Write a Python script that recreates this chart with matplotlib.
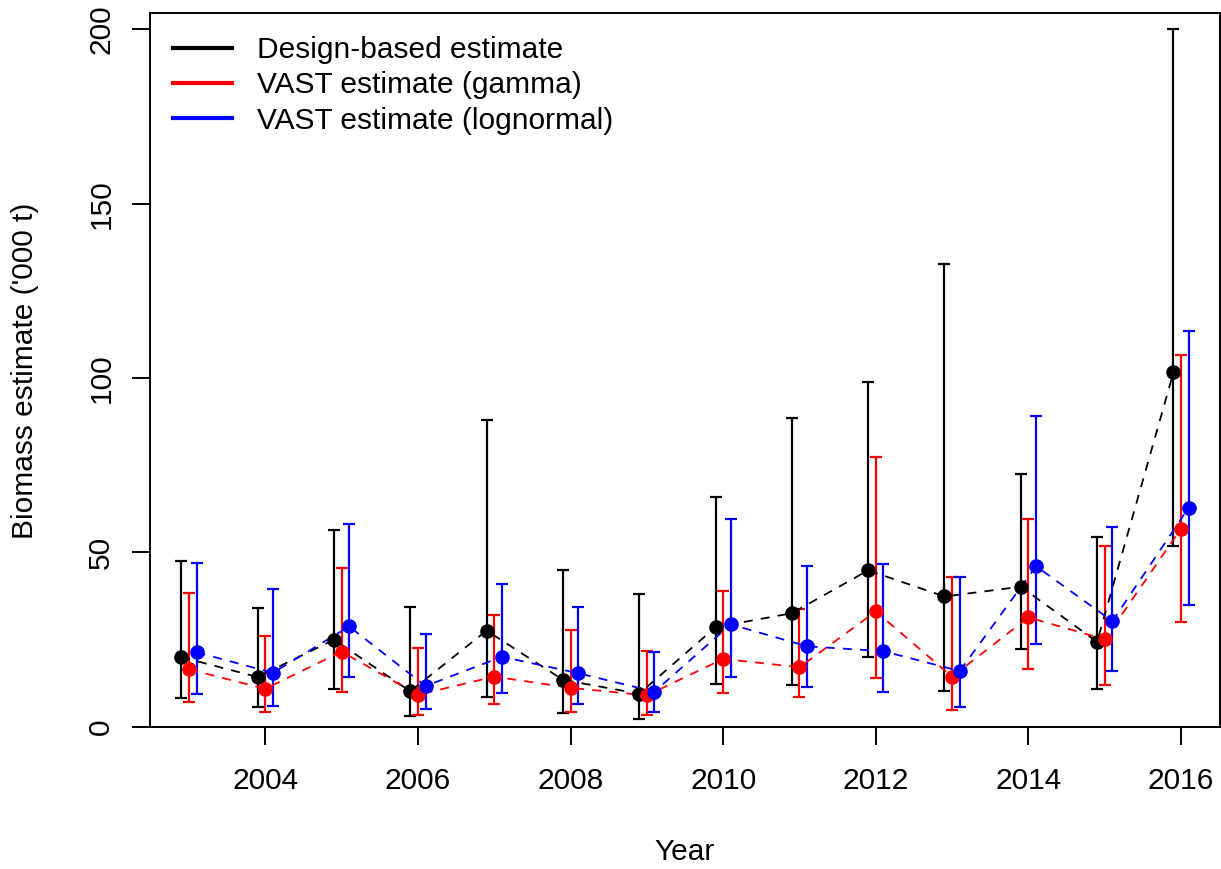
import matplotlib
matplotlib.use("Agg")
import matplotlib.pyplot as plt
from matplotlib.lines import Line2D
import numpy as np

plt.rcParams['font.family'] = ['Liberation Sans', 'DejaVu Sans']

years = [2003, 2004, 2005, 2006, 2007, 2008, 2009, 2010, 2011, 2012, 2013, 2014, 2015, 2016]

design = [19.9, 14.2, 24.9, 10.1, 27.5, 13.4, 9.4, 28.5, 32.5, 44.8, 37.3, 40.1, 24.3, 101.6]
design_lo = [8.2, 5.6, 10.9, 3.0, 8.4, 3.8, 2.1, 12.2, 11.8, 20.0, 10.3, 22.1, 10.9, 51.7]
design_hi = [47.6, 33.9, 56.3, 34.4, 87.8, 45.0, 37.9, 65.9, 88.5, 98.8, 132.7, 72.3, 54.4, 200.0]

gamma = [16.4, 10.8, 21.5, 9.1, 14.3, 11.1, 8.9, 19.4, 17.0, 33.0, 14.3, 31.3, 25.0, 56.8]
gamma_lo = [7.0, 4.3, 9.9, 3.4, 6.5, 4.3, 3.4, 9.6, 8.5, 13.9, 4.8, 16.4, 11.8, 30.1]
gamma_hi = [38.3, 26.1, 45.6, 22.6, 31.9, 27.7, 21.8, 39.0, 33.8, 77.3, 42.8, 59.4, 51.9, 106.5]

lognormal = [21.3, 15.4, 28.7, 11.6, 20.0, 15.3, 10.0, 29.3, 23.0, 21.6, 15.9, 46.0, 30.2, 62.8]
lognormal_lo = [9.4, 5.8, 14.2, 5.0, 9.6, 6.5, 4.3, 14.2, 11.4, 9.9, 5.7, 23.6, 16.0, 34.8]
lognormal_hi = [47.0, 39.5, 58.1, 26.4, 40.8, 34.3, 21.3, 59.4, 46.1, 46.5, 43.0, 89.2, 57.2, 113.6]

labels = ["Design-based estimate", "VAST estimate (gamma)", "VAST estimate (lognormal)"]
colors = ["black", "red", "blue"]
offsets = [-0.1, 0.0, 0.1]

FS = 21.5
W, H = 1221, 869
fig = plt.figure(figsize=(W / 100, H / 100), dpi=100)
ax = fig.add_axes([150 / W, 1 - 726.5 / H, (1220 - 150) / W, (726.5 - 13) / H])

series = [(design, design_lo, design_hi),
          (gamma, gamma_lo, gamma_hi),
          (lognormal, lognormal_lo, lognormal_hi)]

yrs = np.array(years, dtype=float)
for (est, lo, hi), col, off in zip(series, colors, offsets):
    x = yrs + off
    est = np.array(est); lo = np.array(lo); hi = np.array(hi)
    ax.errorbar(x, est, yerr=[est - lo, hi - est], fmt='none', ecolor=col,
                elinewidth=1.6, capsize=4, capthick=1.6, zorder=2)
    ax.plot(x, est, color=col, lw=1.3, ls=(0, (5, 4.5)), zorder=3)
    ax.plot(x, est, 'o', color=col, ms=9.5, zorder=4)

ax.set_xlim(2002.49, 2016.51)
ax.set_ylim(0, 204.7)
ax.set_xticks([2004, 2006, 2008, 2010, 2012, 2014, 2016])
ax.set_yticks([0, 50, 100, 150, 200])
ax.tick_params(axis='both', labelsize=FS, length=13, width=1.4, direction='out')
ax.tick_params(axis='x', pad=16)
ax.tick_params(axis='y', pad=12, labelrotation=90)
for lab in ax.get_yticklabels():
    lab.set_va('center')
for s in ax.spines.values():
    s.set_linewidth(1.4)

fig.text(25 / W, 1 - 371 / H, "Biomass estimate ('000 t)", rotation=90,
         ha='center', va='center', fontsize=FS)
fig.text(685 / W, 1 - 852 / H, "Year", ha='center', va='center', fontsize=FS)

handles = [Line2D([0], [0], color=c, lw=3) for c in colors]
ax.legend(handles, labels, loc='upper left', bbox_to_anchor=(23 / 1070, (726.5 - 36) / 713.5),
          frameon=False, fontsize=FS, handlelength=1.98, handletextpad=0.84,
          labelspacing=0.25, borderpad=0, borderaxespad=0)

fig.savefig("out.png", dpi=100)
